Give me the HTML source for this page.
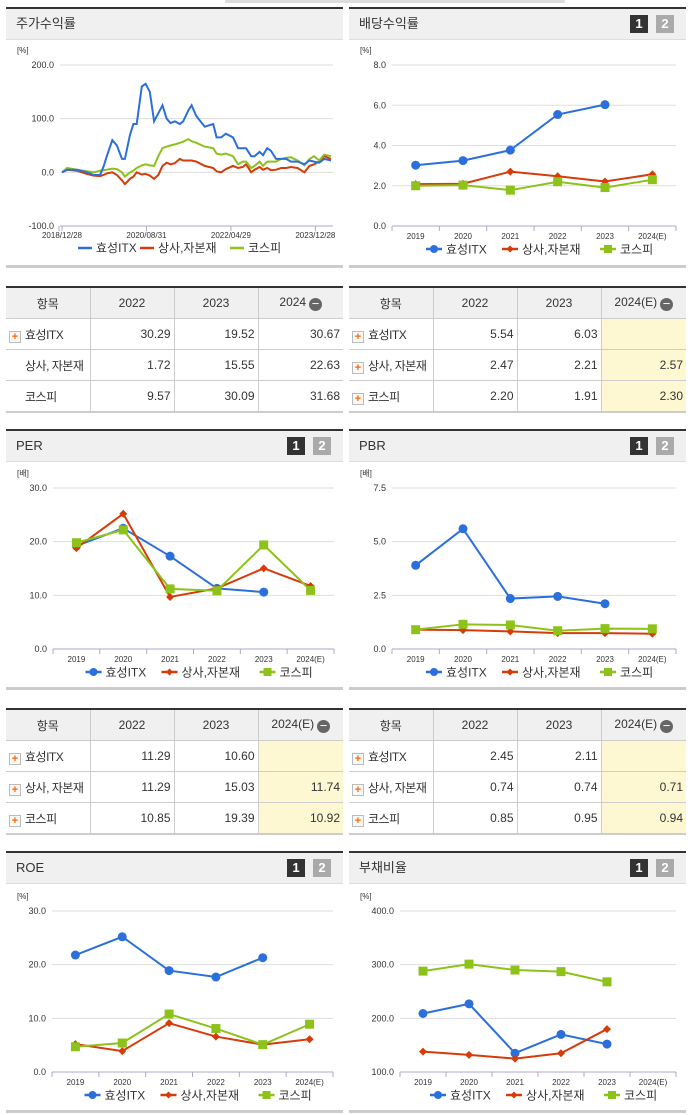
<!DOCTYPE html>
<html><head><meta charset="utf-8"><style>
body{margin:0;width:691px;height:1115px;background:#fff;position:relative;overflow:hidden;font-family:"Liberation Sans","Noto Sans CJK KR",sans-serif;color:#333}
.panel{position:absolute;border-top:2px solid #333;border-bottom:3px solid #ccc;box-sizing:border-box}
.hdr{height:30px;background:#f0f0f0;border-bottom:1px solid #ddd;font-size:13px;line-height:30px;padding-left:10px;position:relative}
.btn{position:absolute;top:6px;width:18px;height:18px;font-size:13px;font-weight:bold;color:#fff;text-align:center;line-height:18px}
.b1{right:38px;background:#333}.b2{right:12px;background:#aaa}
table{position:absolute;border-collapse:collapse;border-top:2px solid #333;border-bottom:2px solid #ccc;font-size:12px;table-layout:fixed}
td,th{border:1px solid #ccc;height:30px;padding:0 3px;font-weight:normal;white-space:nowrap;overflow:hidden}
tr td:first-child,tr th:first-child{border-left:none}
tr td:last-child,tr th:last-child{border-right:none}
th{background:#f0f0f0;text-align:center}
td{text-align:right}
td.n{text-align:left;padding-left:3px;letter-spacing:-0.5px}
.pl{display:inline-block;width:10px;height:10px;border:1px solid #bbb;background:#f8f8f8;color:#f60;font-size:11px;line-height:10px;text-align:center;margin-right:4px;vertical-align:-1px;font-weight:bold;letter-spacing:0}
.sp{display:inline-block;width:12px;margin-right:4px}
.y{background:#fdf8d2}
.mi{display:inline-block;width:13px;height:13px;border-radius:50%;background:#666;color:#fff;line-height:12px;font-size:13px;vertical-align:-2px;margin-left:3px}
svg{position:absolute;left:0;top:0}
</style></head><body>
<div style="position:absolute;left:225px;top:0;width:340px;height:3px;background:#ddd"></div>

<div class="panel" style="left:6px;top:7px;width:337px;height:261px"><div class="hdr">주가수익률</div></div>
<div class="panel" style="left:349px;top:7px;width:337px;height:261px"><div class="hdr">배당수익률<span class="btn b1">1</span><span class="btn b2">2</span></div></div>
<div class="panel" style="left:6px;top:429px;width:337px;height:261px"><div class="hdr">PER<span class="btn b1">1</span><span class="btn b2">2</span></div></div>
<div class="panel" style="left:349px;top:429px;width:337px;height:261px"><div class="hdr">PBR<span class="btn b1">1</span><span class="btn b2">2</span></div></div>
<div class="panel" style="left:6px;top:851px;width:337px;height:262px"><div class="hdr">ROE<span class="btn b1">1</span><span class="btn b2">2</span></div></div>
<div class="panel" style="left:349px;top:851px;width:337px;height:262px"><div class="hdr">부채비율<span class="btn b1">1</span><span class="btn b2">2</span></div></div>

<table style="left:6px;top:286px;width:337px">
<colgroup><col style="width:84px"><col style="width:84px"><col style="width:84px"><col style="width:85px"></colgroup>
<tr><th>항목</th><th>2022</th><th>2023</th><th>2024<span class="mi">−</span></th></tr>
<tr><td class="n"><span class="pl">+</span>효성ITX</td><td>30.29</td><td>19.52</td><td>30.67</td></tr>
<tr><td class="n"><span class="sp"></span>상사, 자본재</td><td>1.72</td><td>15.55</td><td>22.63</td></tr>
<tr><td class="n"><span class="sp"></span>코스피</td><td>9.57</td><td>30.09</td><td>31.68</td></tr></table>

<table style="left:349px;top:286px;width:337px">
<colgroup><col style="width:84px"><col style="width:84px"><col style="width:84px"><col style="width:85px"></colgroup>
<tr><th>항목</th><th>2022</th><th>2023</th><th>2024(E)<span class="mi">−</span></th></tr>
<tr><td class="n"><span class="pl">+</span>효성ITX</td><td>5.54</td><td>6.03</td><td class="y"></td></tr>
<tr><td class="n"><span class="pl">+</span>상사, 자본재</td><td>2.47</td><td>2.21</td><td class="y">2.57</td></tr>
<tr><td class="n"><span class="pl">+</span>코스피</td><td>2.20</td><td>1.91</td><td class="y">2.30</td></tr></table>

<table style="left:6px;top:708px;width:337px">
<colgroup><col style="width:84px"><col style="width:84px"><col style="width:84px"><col style="width:85px"></colgroup>
<tr><th>항목</th><th>2022</th><th>2023</th><th>2024(E)<span class="mi">−</span></th></tr>
<tr><td class="n"><span class="pl">+</span>효성ITX</td><td>11.29</td><td>10.60</td><td class="y"></td></tr>
<tr><td class="n"><span class="pl">+</span>상사, 자본재</td><td>11.29</td><td>15.03</td><td class="y">11.74</td></tr>
<tr><td class="n"><span class="pl">+</span>코스피</td><td>10.85</td><td>19.39</td><td class="y">10.92</td></tr></table>

<table style="left:349px;top:708px;width:337px">
<colgroup><col style="width:84px"><col style="width:84px"><col style="width:84px"><col style="width:85px"></colgroup>
<tr><th>항목</th><th>2022</th><th>2023</th><th>2024(E)<span class="mi">−</span></th></tr>
<tr><td class="n"><span class="pl">+</span>효성ITX</td><td>2.45</td><td>2.11</td><td class="y"></td></tr>
<tr><td class="n"><span class="pl">+</span>상사, 자본재</td><td>0.74</td><td>0.74</td><td class="y">0.71</td></tr>
<tr><td class="n"><span class="pl">+</span>코스피</td><td>0.85</td><td>0.95</td><td class="y">0.94</td></tr></table>

<svg id="s" width="691" height="1115"></svg>
<script>
// stock return (months since 2018/12)
const stockT=[0,1.2,3.5,5.9,7.5,9,9.8,10.6,11.9,13,14.2,14.9,16.1,16.9,17.7,18.9,19.8,20.8,21.8,22.8,23.8,24.8,25.7,26.7,27.9,28.7,29.9,30.7,31.8,33.8,35.8,36.6,37.7,38.8,40.5,41.7,42.8,43.6,44.8,45.6,46.8,47.6,48.6,49.5,50.7,51.9,53.1,54.2,55.8,57.4,58.6,59.7,60.9,62.1,63.7];
const stockBlue=[0,5,5,0,-5,-5,10,30,60,50,25,25,70,90,90,160,165,150,95,110,125,100,92,95,90,95,115,125,105,85,90,65,65,72,65,45,45,45,30,30,38,32,45,40,25,25,25,20,20,15,22,20,18,25,22];
const stockRed=[0,5,3,-3,-6,-7,-5,-2,0,-5,-15,-22,-12,-8,0,-4,-3,-6,-12,-5,12,18,15,17,25,22,22,22,20,12,8,2,0,6,12,8,10,15,0,5,10,5,8,4,5,8,8,10,8,0,12,15,20,30,25];
const stockGreen=[0,8,5,2,0,3,4,5,7,6,0,-8,0,3,8,13,15,13,12,30,45,48,50,52,55,57,62,58,55,48,45,35,33,35,30,15,20,20,8,12,20,12,20,20,20,25,27,28,22,13,25,30,22,33,30];
const stockTickT=[0,20,40,60];
const stockTickLabels=["2018/12/28","2020/08/31","2022/04/29","2023/12/28"];
const stockYTicks=[-100,0,100,200];

const years=["2019","2020","2021","2022","2023","2024(E)"];
const divBlue=[3.02,3.25,3.77,5.54,6.03,null];
const divRed=[2.08,2.10,2.70,2.47,2.21,2.57];
const divGreen=[2.00,2.03,1.78,2.20,1.91,2.30];
const perBlue=[19.2,22.5,17.3,11.29,10.6,null];
const perRed=[18.8,25.2,9.7,11.29,15.03,11.74];
const perGreen=[19.8,22.2,11.2,10.85,19.39,10.92];
const pbrBlue=[3.9,5.6,2.35,2.45,2.11,null];
const pbrRed=[0.90,0.88,0.82,0.74,0.74,0.71];
const pbrGreen=[0.90,1.15,1.12,0.85,0.95,0.94];
const roeBlue=[21.8,25.2,18.9,17.7,21.3,null];
const roeRed=[5.2,3.9,9.1,6.6,5.1,6.1];
const roeGreen=[4.7,5.4,10.8,8.1,5.1,8.9];
const debtBlue=[209,227,135,170,152,null];
const debtRed=[138,132,125,135,180,null];
const debtGreen=[288,301,290,287,268,null];

const C={b:"#2b6fdc",r:"#d63b0a",g:"#8cc21a"};
const S=document.getElementById('s');const NS="http://www.w3.org/2000/svg";
function el(t,a,txt){const e=document.createElementNS(NS,t);for(const k in a)e.setAttribute(k,a[k]);if(txt!=null)e.textContent=txt;S.appendChild(e);return e;}
function frame(x0,x1,yT,yB,vmin,vmax,ticks,fmt,lx){
  const y=v=>yB-(v-vmin)/(vmax-vmin)*(yB-yT);
  ticks.forEach(v=>{const g=el('line',{x1:x0,x2:x1,y1:y(v),y2:y(v),stroke:v===vmin?"#aac":"#ddd","stroke-width":1});
    const t=el('text',{x:x0-6,y:y(v)+3,"text-anchor":"end","font-size":9,fill:"#333"},fmt(v));});
  const u=el('text',{x:lx,y:yT-12,"font-size":8,fill:"#333"},fmt.unit||"[%]");
  return y;
}
function legend(cx,yy){
  const items=[["효성ITX",C.b,"c"],["상사,자본재",C.r,"d"],["코스피",C.g,"s"]];
  let x=cx-108;
  items.forEach(([n,c,m])=>{
    el('line',{x1:x,x2:x+16,y1:yy,y2:yy,stroke:c,"stroke-width":2.5});
    if(m==="c")el('circle',{cx:x+8,cy:yy,r:4,fill:c});
    if(m==="d")el('path',{d:`M${x+8} ${yy-3.5}L${x+11.5} ${yy}L${x+8} ${yy+3.5}L${x+4.5} ${yy}Z`,fill:c});
    if(m==="s")el('rect',{x:x+4,y:yy-4,width:8,height:8,fill:c});
    const t=el('text',{x:x+20,y:yy+4.5,"font-size":12,fill:"#333"},n);
    x+=20+n.length*(n==="효성ITX"?10:12)+6;
  });
}
function marker(m,x,y,c){
  let e;
  if(m==="c")e=el('circle',{cx:x,cy:y,r:4.5,fill:c});
  else if(m==="d")e=el('path',{d:`M${x} ${y-4}L${x+4} ${y}L${x} ${y+4}L${x-4} ${y}Z`,fill:c});
  else e=el('rect',{x:x-4.5,y:y-4.5,width:9,height:9,fill:c});
  
}
function catChart(x0,x1,yT,yB,vmin,vmax,ticks,unit,lx,series){
  const fmt=v=>v.toFixed(1);fmt.unit=unit;
  const y=frame(x0,x1,yT,yB,vmin,vmax,ticks,fmt,lx);
  const w=(x1-x0)/years.length;const xc=i=>x0+w*(i+0.5);
  for(let i=0;i<=years.length;i++)el('line',{x1:x0+w*i,x2:x0+w*i,y1:yB,y2:yB+5,stroke:"#aac"});
  years.forEach((c,i)=>{const t=el('text',{x:xc(i),y:yB+13,"text-anchor":"middle","font-size":8,fill:"#333"},c);});
  series.forEach(([vals,c,m])=>{
    let d="";vals.forEach((v,i)=>{if(v==null)return;d+=(d?"L":"M")+xc(i)+" "+y(v);});
    const p=el('path',{d:d,fill:"none",stroke:c,"stroke-width":2});
    vals.forEach((v,i)=>{if(v!=null)marker(m,xc(i),y(v),c);});
  });
  legend((x0+x1)/2,yB+23);
}
(function(){
  const x0=62,x1=333,yT=65,yB=226,tMax=63.7;
  const fmt=v=>v.toFixed(1);fmt.unit="[%]";
  const y=frame(60,x1,yT,yB,-100,200,stockYTicks,fmt,17);
  const x=t=>x0+t/tMax*(x1-2-x0);
  el('line',{x1:59,x2:59,y1:yB,y2:yB+5,stroke:"#aac"});
  stockTickT.forEach((t,i)=>{el('line',{x1:x(t),x2:x(t),y1:yB,y2:yB+5,stroke:"#aac"});
    const e=el('text',{x:x(t),y:yB+12,"text-anchor":"middle","font-size":8,fill:"#333"},stockTickLabels[i]);});
  [[stockRed,C.r],[stockGreen,C.g],[stockBlue,C.b]].forEach(([v,c])=>{
    const d=v.map((val,i)=>(i?"L":"M")+x(stockT[i]).toFixed(1)+" "+y(val).toFixed(1)).join("");
    const p=el('path',{d:d,fill:"none",stroke:c,"stroke-width":2});
  });
  const items=[["효성ITX",C.b,78],["상사,자본재",C.r,140],["코스피",C.g,230]];
  items.forEach(([n,c,lx])=>{el('line',{x1:lx,x2:lx+14,y1:248,y2:248,stroke:c,"stroke-width":2.5});
    const t=el('text',{x:lx+18,y:252,"font-size":12,fill:"#333"},n);});
})();
catChart(392,676,65,226,0,8,[0,2,4,6,8],"[%]",360,[[divRed,C.r,"d"],[divGreen,C.g,"s"],[divBlue,C.b,"c"]]);
catChart(53,334,488,649,0,30,[0,10,20,30],"[배]",17,[[perBlue,C.b,"c"],[perRed,C.r,"d"],[perGreen,C.g,"s"]]);
catChart(392,676,488,649,0,7.5,[0,2.5,5,7.5],"[배]",360,[[pbrBlue,C.b,"c"],[pbrRed,C.r,"d"],[pbrGreen,C.g,"s"]]);
catChart(52,333,911,1072,0,30,[0,10,20,30],"[%]",17,[[roeBlue,C.b,"c"],[roeRed,C.r,"d"],[roeGreen,C.g,"s"]]);
catChart(400,676,911,1072,100,400,[100,200,300,400],"[%]",360,[[debtBlue,C.b,"c"],[debtRed,C.r,"d"],[debtGreen,C.g,"s"]]);
</script>
</body></html>
